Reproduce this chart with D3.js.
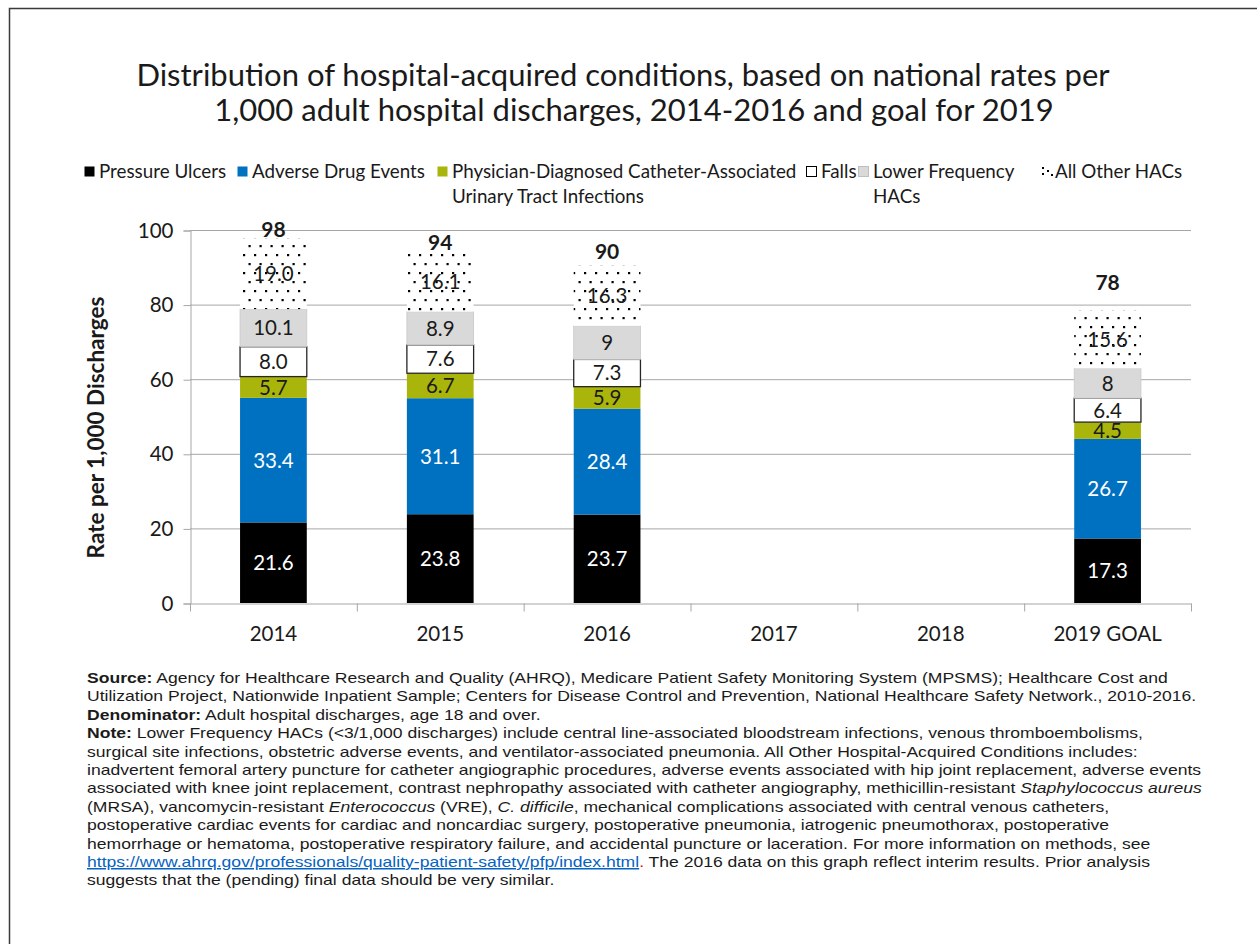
<!DOCTYPE html>
<html>
<head>
<meta charset="utf-8">
<script src="https://cdn.jsdelivr.net/npm/d3@7/dist/d3.min.js"></script>
<style>
  body { margin: 0; background: #fff; }
  svg { display: block; }
</style>
</head>
<body>
<svg id="chart" width="1257" height="944"></svg>
<script>
// values as printed on the chart (kept as strings so "8.0" stays "8.0")
const years = ['2014', '2015', '2016', '2017', '2018', '2019 GOAL'];
const pressureUlcers = ['21.6', '23.8', '23.7', null, null, '17.3'];
const adverseDrugEvents = ['33.4', '31.1', '28.4', null, null, '26.7'];
const cauti = ['5.7', '6.7', '5.9', null, null, '4.5'];
const falls = ['8.0', '7.6', '7.3', null, null, '6.4'];
const lowerFrequency = ['10.1', '8.9', '9', null, null, '8'];
const allOther = ['19.0', '16.1', '16.3', null, null, '15.6'];
const totals = ['98', '94', '90', null, null, '78'];
const yTicks = [0, 20, 40, 60, 80, 100];

const seriesKeys = ['pu', 'ade', 'cauti', 'falls', 'lower', 'other'];
const seriesLabels = [
  ['Pressure Ulcers'],
  ['Adverse Drug Events'],
  ['Physician-Diagnosed Catheter-Associated', 'Urinary Tract Infections'],
  ['Falls'],
  ['Lower Frequency', 'HACs'],
  ['All Other HACs'],
];
const fills = ['#000000', '#0070c0', '#aab50b', '#ffffff', '#d9d9d9', 'url(#dots)'];
const labelColors = ['#fff', '#fff', '#1a1a1a', '#1a1a1a', '#1a1a1a', '#1a1a1a'];
const legendX = [84, 237, 437, 806, 858, 1042];

const rows = years.map((y, i) => ({
  year: y,
  total: totals[i],
  pu: pressureUlcers[i],
  ade: adverseDrugEvents[i],
  cauti: cauti[i],
  falls: falls[i],
  lower: lowerFrequency[i],
  other: allOther[i],
}));

const svg = d3.select('#chart');
const cal = 'Lato, Carlito, "Open Sans", sans-serif';
const arial = '"Liberation Sans", Arial, sans-serif';

// dotted fill for "All Other HACs"
const defs = svg.append('defs');
const pat = defs.append('pattern')
  .attr('id', 'dots')
  .attr('patternUnits', 'userSpaceOnUse')
  .attr('width', 11).attr('height', 18);
pat.append('rect').attr('width', 11).attr('height', 18).attr('fill', '#fff');
pat.append('rect').attr('x', 1).attr('y', 2).attr('width', 2.2).attr('height', 2.2).attr('fill', '#000');
pat.append('rect').attr('x', 6.5).attr('y', 11).attr('width', 2.2).attr('height', 2.2).attr('fill', '#000');

// frame
svg.append('path')
  .attr('d', 'M9.5,944 V8.5 H1257')
  .attr('fill', 'none')
  .attr('stroke', '#3a3a3a')
  .attr('stroke-width', 1.5);

// title
const title = svg.append('text')
  .attr('text-anchor', 'middle')
  .style('font-family', cal)
  .style('font-size', '31px')
  .attr('fill', '#1a1a1a');
title.append('tspan').attr('x', 623).attr('y', 86)
  .text('Distribution of hospital-acquired conditions, based on national rates per');
title.append('tspan').attr('x', 634).attr('y', 121)
  .text('1,000 adult hospital discharges, 2014-2016 and goal for 2019');

// chart area
const margin = {left: 190, right: 1191, top: 230, bottom: 603};
const x = d3.scaleBand().domain(years).range([margin.left, margin.right]).paddingInner(0).paddingOuter(0);
const y = d3.scaleLinear().domain([0, 100]).range([margin.bottom, margin.top]);
const barW = x.step() * 0.4;

// gridlines
svg.append('g')
  .selectAll('line')
  .data(yTicks.filter(t => t > 0))
  .join('line')
  .attr('x1', margin.left).attr('x2', margin.right)
  .attr('y1', d => y(d) + 0.5).attr('y2', d => y(d) + 0.5)
  .attr('stroke', '#a6a6a6');

// y axis
const yAxis = svg.append('g')
  .attr('transform', `translate(${margin.left + 0.5},0.5)`)
  .call(d3.axisLeft(y).tickValues(yTicks).tickSize(7).tickPadding(10));
yAxis.select('.domain').attr('stroke', '#a6a6a6');
yAxis.selectAll('.tick line').attr('stroke', '#a6a6a6');
yAxis.selectAll('.tick text')
  .style('font-family', cal).style('font-size', '20.5px').attr('fill', '#1a1a1a');

// x axis
const xAxis = svg.append('g')
  .attr('transform', `translate(0,${margin.bottom + 0.5})`)
  .call(d3.axisBottom(x).tickSize(0).tickPadding(23));
xAxis.select('.domain').attr('stroke', '#a6a6a6');
xAxis.selectAll('.tick text')
  .style('font-family', cal).style('font-size', '20.5px').attr('fill', '#1a1a1a');
// tick marks sit on the category boundaries
xAxis.selectAll('line.bound')
  .data(d3.range(years.length + 1))
  .join('line')
  .attr('class', 'bound')
  .attr('x1', i => margin.left + i * x.step() + 0.5)
  .attr('x2', i => margin.left + i * x.step() + 0.5)
  .attr('y1', 0).attr('y2', 8)
  .attr('stroke', '#a6a6a6');

// stacked bars
const stack = d3.stack()
  .keys(seriesKeys)
  .value((d, k) => (d[k] == null ? 0 : +d[k]));
const layers = stack(rows);

const gBars = svg.append('g');
layers.forEach((layer, li) => {
  const cells = layer.map(s => ({s, row: s.data, label: s.data[layer.key]}))
    .filter(c => c.label != null);
  gBars.selectAll(null)
    .data(cells)
    .join('rect')
    .attr('x', c => x(c.row.year) + (x.bandwidth() - barW) / 2)
    .attr('width', barW)
    .attr('y', c => y(c.s[1]))
    .attr('height', c => y(c.s[0]) - y(c.s[1]))
    .attr('fill', fills[li])
    .attr('stroke', layer.key === 'falls' ? '#262626' : layer.key === 'lower' ? '#c8c8c8' : 'none')
    .attr('stroke-width', layer.key === 'falls' ? 1.3 : 0.8);
  gBars.selectAll(null)
    .data(cells)
    .join('text')
    .attr('x', c => x(c.row.year) + x.bandwidth() / 2)
    .attr('y', c => (y(c.s[0]) + y(c.s[1])) / 2)
    .attr('dy', '0.36em')
    .attr('text-anchor', 'middle')
    .style('font-family', cal)
    .style('font-size', '20.5px')
    .attr('fill', labelColors[li])
    .text(c => c.label);
});

// totals, placed by hand above each stack in the original
const totalNudge = {'2015': 1, '2016': 5, '2019 GOAL': 19};
const topLayer = layers[layers.length - 1];
svg.append('g')
  .selectAll('text')
  .data(topLayer.filter(s => s.data.total != null))
  .join('text')
  .attr('x', s => x(s.data.year) + x.bandwidth() / 2)
  .attr('y', s => y(s[1]) - 1 - (totalNudge[s.data.year] || 0))
  .attr('text-anchor', 'middle')
  .style('font-family', cal)
  .style('font-size', '21px')
  .style('font-weight', 'bold')
  .attr('fill', '#1a1a1a')
  .text(s => s.data.total);

// y axis title
svg.append('text')
  .attr('transform', `translate(104,${(margin.top + margin.bottom) / 2 + 11}) rotate(-90)`)
  .attr('text-anchor', 'middle')
  .style('font-family', cal)
  .style('font-size', '22.5px')
  .style('font-weight', 'bold')
  .attr('fill', '#1a1a1a')
  .text('Rate per 1,000 Discharges');

// legend
const legend = svg.append('g').style('font-family', cal).style('font-size', '18.8px');
seriesKeys.forEach((k, i) => {
  const lx = legendX[i];
  const item = legend.append('g');
  if (k === 'other') {
    // small dot glyph
    [[0, 1], [0, 7], [5, 4], [9, 8]].forEach(p => item.append('rect')
      .attr('x', lx + p[0]).attr('y', 166 + p[1]).attr('width', 2).attr('height', 2).attr('fill', '#000'));
  } else {
    item.append('rect')
      .attr('x', lx + 0.5).attr('y', 166.5)
      .attr('width', 10).attr('height', 10)
      .attr('fill', fills[i])
      .attr('stroke', k === 'falls' ? '#000' : k === 'lower' ? '#bfbfbf' : 'none');
  }
  const t = item.append('text').attr('fill', '#1a1a1a');
  seriesLabels[i].forEach((line, j) => {
    t.append('tspan').attr('x', lx + (k === 'other' ? 13 : 15)).attr('y', 178 + j * 25).text(line);
  });
});

// notes
const notes = [
  [['b', 'Source:'], ['n', ' Agency for Healthcare Research and Quality (AHRQ), Medicare Patient Safety Monitoring System (MPSMS); Healthcare Cost and']],
  [['n', 'Utilization Project, Nationwide Inpatient Sample; Centers for Disease Control and Prevention, National Healthcare Safety Network., 2010-2016.']],
  [['b', 'Denominator:'], ['n', ' Adult hospital discharges, age 18 and over.']],
  [['b', 'Note:'], ['n', ' Lower Frequency HACs (<3/1,000 discharges) include central line-associated bloodstream infections, venous thromboembolisms,']],
  [['n', 'surgical site infections, obstetric adverse events, and ventilator-associated pneumonia. All Other Hospital-Acquired Conditions includes:']],
  [['n', 'inadvertent femoral artery puncture for catheter angiographic procedures, adverse events associated with hip joint replacement, adverse events']],
  [['n', 'associated with knee joint replacement, contrast nephropathy associated with catheter angiography, methicillin-resistant '], ['i', 'Staphylococcus aureus']],
  [['n', '(MRSA), vancomycin-resistant '], ['i', 'Enterococcus'], ['n', ' (VRE), '], ['i', 'C. difficile'], ['n', ', mechanical complications associated with central venous catheters,']],
  [['n', 'postoperative cardiac events for cardiac and noncardiac surgery, postoperative pneumonia, iatrogenic pneumothorax, postoperative']],
  [['n', 'hemorrhage or hematoma, postoperative respiratory failure, and accidental puncture or laceration. For more information on methods, see']],
  [['a', 'https://www.ahrq.gov/professionals/quality-patient-safety/pfp/index.html'], ['r', '.'], ['n', ' The 2016 data on this graph reflect interim results. Prior analysis']],
  [['n', 'suggests that the (pending) final data should be very similar.']],
];
const gNotes = svg.append('g')
  .style('font-family', arial)
  .style('font-size', '15px')
  .attr('fill', '#1a1a1a');
notes.forEach((line, i) => {
  const t = gNotes.append('text').attr('x', 87).attr('y', 683 + i * 18.4).attr('xml:space', 'preserve');
  line.forEach(([kind, str]) => {
    const sp = t.append('tspan').text(str);
    if (kind === 'b') sp.style('font-weight', 'bold');
    if (kind === 'i') sp.style('font-style', 'italic');
    if (kind === 'a') sp.attr('fill', '#0563c1').style('text-decoration', 'underline');
    if (kind === 'r') sp.attr('fill', '#ff0000');
  });
  // the source text is set a bit wider than plain Arial; long lines get squeezed into the box
  const w = t.node().getComputedTextLength();
  t.attr('textLength', Math.min(w * 1.17, 1118)).attr('lengthAdjust', 'spacingAndGlyphs');
});
</script>
</body>
</html>
